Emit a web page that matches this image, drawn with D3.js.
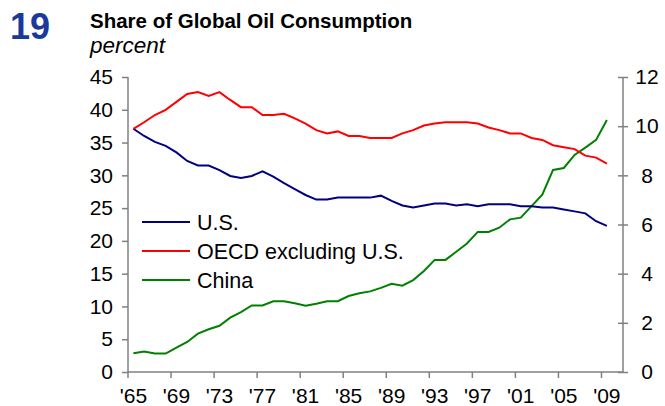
<!DOCTYPE html>
<html>
<head>
<meta charset="utf-8">
<script src="https://cdn.jsdelivr.net/npm/d3@7"></script>
<style>
    body { margin: 0; background: #fff; }
    svg { font-family: "Liberation Sans", Arial, sans-serif; }
</style>
</head>
<body>
<script>
'use strict';

// years on the category axis, 2010 slot is left empty like the original
var years = d3.range(1965, 2011);
var tickYears = [1965, 1969, 1973, 1977, 1981, 1985, 1989, 1993, 1997, 2001, 2005, 2009];

var usShare = [37.1, 36.0, 35.1, 34.5, 33.5, 32.2, 31.5, 31.5, 30.8, 29.9,
               29.6, 29.9, 30.6, 29.8, 28.8, 27.9, 27.0, 26.3, 26.3, 26.6,
               26.6, 26.6, 26.6, 26.9, 26.1, 25.4, 25.1, 25.4, 25.7, 25.7,
               25.4, 25.6, 25.3, 25.6, 25.6, 25.6, 25.3, 25.3, 25.1, 25.1,
               24.8, 24.5, 24.2, 23.0, 22.3];

var oecdShare = [37.1, 38.1, 39.2, 40.0, 41.2, 42.4, 42.7, 42.1, 42.7, 41.5,
                 40.4, 40.4, 39.2, 39.2, 39.4, 38.7, 37.9, 36.9, 36.4, 36.7,
                 36.0, 36.0, 35.7, 35.7, 35.7, 36.4, 36.9, 37.6, 37.9, 38.1,
                 38.1, 38.1, 37.9, 37.3, 36.9, 36.4, 36.4, 35.7, 35.4, 34.6,
                 34.3, 34.0, 33.0, 32.7, 31.8];

// china is read against the right hand axis
var chinaShare = [0.76, 0.83, 0.75, 0.75, 0.99, 1.22, 1.56, 1.74, 1.88, 2.21,
                  2.44, 2.71, 2.71, 2.88, 2.88, 2.80, 2.70, 2.78, 2.88, 2.88,
                  3.09, 3.20, 3.28, 3.42, 3.59, 3.51, 3.74, 4.11, 4.56, 4.56,
                  4.89, 5.23, 5.70, 5.70, 5.87, 6.21, 6.28, 6.75, 7.21, 8.22,
                  8.30, 8.83, 9.13, 9.44, 10.25];

var leftTicks = [0, 5, 10, 15, 20, 25, 30, 35, 40, 45];
var rightTicks = [0, 2, 4, 6, 8, 10, 12];

var legendNames = ['U.S.', 'OECD excluding U.S.', 'China'];
var colors = ['#000080', '#ff0000', '#008000'];

var axisColor = '#808080';

var svg = d3.select('body')
    .append('svg')
    .attr('width', 665)
    .attr('height', 406);

// plot area
var plotLeft = 128, plotRight = 623, plotTop = 77, plotBottom = 372;

var x = d3.scaleBand()
    .domain(years)
    .range([plotLeft, plotRight]);

var yLeft = d3.scaleLinear()
    .domain([0, 45])
    .range([plotBottom, plotTop]);

var yRight = d3.scaleLinear()
    .domain([0, 12])
    .range([plotBottom, plotTop]);

function cx(i) { return x(years[i]) + x.bandwidth() / 2; }

// title block
svg.append('text')
    .attr('x', 10)
    .attr('y', 39)
    .style('font-size', '36px')
    .style('font-weight', 'bold')
    .style('fill', '#1a3a9a')
    .text('19');

svg.append('text')
    .attr('x', 90)
    .attr('y', 28)
    .style('font-size', '20.5px')
    .style('font-weight', 'bold')
    .style('fill', '#000')
    .text('Share of Global Oil Consumption');

svg.append('text')
    .attr('x', 90)
    .attr('y', 53)
    .style('font-size', '22.5px')
    .style('font-style', 'italic')
    .style('fill', '#000')
    .text('percent');

// left axis
var gLeft = svg.append('g')
    .attr('transform', 'translate(' + plotLeft + ',0)')
    .call(d3.axisLeft(yLeft).tickValues(leftTicks).tickSize(6).tickPadding(9));

// right axis, ticks cross the line and labels sit centred
var gRight = svg.append('g')
    .attr('transform', 'translate(' + plotRight + ',0)')
    .call(d3.axisRight(yRight).tickValues(rightTicks).tickSize(5).tickPadding(19));
gRight.selectAll('.tick line').attr('x1', -5);
gRight.selectAll('.tick text').attr('text-anchor', 'middle');

// bottom axis: labels on category centres, ticks on the boundaries
var gBottom = svg.append('g')
    .attr('transform', 'translate(0,' + plotBottom + ')')
    .call(d3.axisBottom(x).tickValues(tickYears).tickSize(0).tickPadding(16)
        .tickFormat(function (d) { return "'" + String(d).slice(2); }));

gBottom.selectAll('.boundary')
    .data(tickYears)
    .enter()
    .append('line')
    .attr('x1', function (d) { return x(d); })
    .attr('x2', function (d) { return x(d); })
    .attr('y1', 0)
    .attr('y2', 6);

[gLeft, gRight, gBottom].forEach(function (g) {
    g.selectAll('path').attr('stroke', axisColor).attr('stroke-width', 1.5);
    g.selectAll('line').attr('stroke', axisColor).attr('stroke-width', 1.5);
    g.selectAll('text')
        .style('font-size', '21px')
        .style('font-family', '"Liberation Sans", Arial, sans-serif')
        .style('fill', '#000');
});
gBottom.select('.domain').attr('d', 'M' + plotLeft + ',0H' + plotRight);
gLeft.select('.domain').attr('d', 'M0,' + plotTop + 'V' + plotBottom);
gRight.select('.domain').attr('d', 'M0,' + plotTop + 'V' + plotBottom);

// lines
var lineLeft = d3.line()
    .x(function (d, i) { return cx(i); })
    .y(function (d) { return yLeft(d); });

var lineRight = d3.line()
    .x(function (d, i) { return cx(i); })
    .y(function (d) { return yRight(d); });

svg.append('path')
    .datum(chinaShare)
    .attr('d', lineRight)
    .attr('fill', 'none')
    .attr('stroke', colors[2])
    .attr('stroke-width', 2);

svg.append('path')
    .datum(usShare)
    .attr('d', lineLeft)
    .attr('fill', 'none')
    .attr('stroke', colors[0])
    .attr('stroke-width', 2);

svg.append('path')
    .datum(oecdShare)
    .attr('d', lineLeft)
    .attr('fill', 'none')
    .attr('stroke', colors[1])
    .attr('stroke-width', 2);

// legend
var legend = svg.selectAll('.legend')
    .data(legendNames)
    .enter()
    .append('g')
    .attr('transform', function (d, i) { return 'translate(142,' + (222 + i * 29) + ')'; });

legend.append('line')
    .attr('x1', 0)
    .attr('x2', 48)
    .attr('stroke', function (d, i) { return colors[i]; })
    .attr('stroke-width', 2);

legend.append('text')
    .attr('x', 55)
    .attr('y', 7.5)
    .style('font-size', '21.5px')
    .style('fill', '#000')
    .text(function (d) { return d; });
</script>
</body>
</html>
